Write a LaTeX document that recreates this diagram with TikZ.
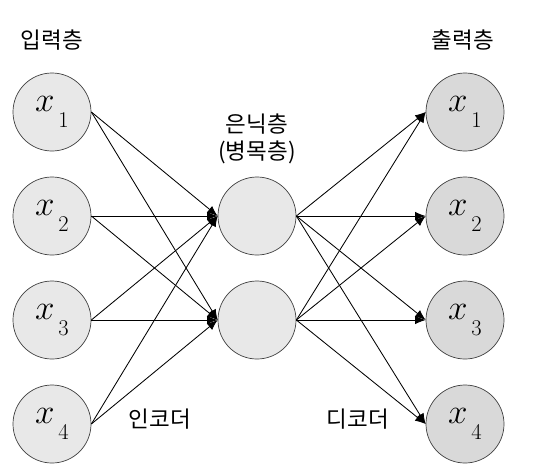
\documentclass[tikz,border=0pt]{standalone}
\usepackage{fontspec}
\usepackage{tikz}
\usetikzlibrary{arrows.meta,calc,positioning}
\newfontfamily\kr{Noto Sans CJK KR}
\definecolor{infill}{HTML}{E8E8E8}
\definecolor{outfill}{HTML}{D9D9D9}
\newcommand{\unit}[1]{$x$\raisebox{-0.45em}{\fontsize{16}{19}\selectfont\,#1}}

\begin{document}
\begin{tikzpicture}[x=0.025cm,y=-0.025cm,
  neuron/.style={circle,draw=black!75,line width=0.5pt,minimum size=1.95cm,inner sep=0pt,
    font=\fontsize{25}{30}\selectfont},
  conn/.style={line width=0.6pt,-{Latex[length=7.5pt,width=6pt]}},
  lbl/.style={font=\kr\fontsize{16}{19}\selectfont,align=center,inner sep=0pt}]
  \useasboundingbox (0,0) rectangle (544,468);

  % input and output layers
  \foreach \i/\y in {1/112,2/216,3/320,4/424} {
    \node[neuron,fill=infill]  (in\i)  at (52,\y)  {\unit{\i}};
    \node[neuron,fill=outfill] (out\i) at (465,\y) {\unit{\i}};
  }

  % bottleneck
  \node[neuron,fill=infill] (h1) at (257,216) {};
  \node[neuron,fill=infill] (h2) at (257,320) {};

  \foreach \i in {1,...,4}
    \foreach \j in {1,2} {
      \draw[conn] (in\i.east) -- (h\j.west);
      \draw[conn] (h\j.east) -- (out\i.west);
    }

  \node[lbl] (inlbl)  at (52,40)   {입력층};
  \node[lbl] (outlbl) at (463,40)  {출력층};
  \node[lbl] (hidlbl) at (257,139) {은닉층\\(병목층)};
  \node[lbl] (enclbl) at (160,419) {인코더};
  \node[lbl] (declbl) at (358,419) {디코더};
\end{tikzpicture}
\end{document}
